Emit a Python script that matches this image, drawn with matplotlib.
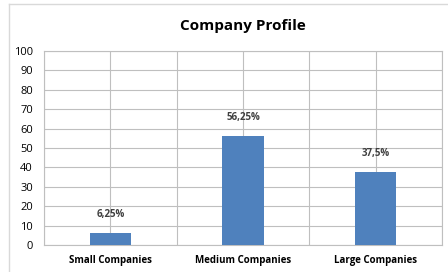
import matplotlib.pyplot as plt
from matplotlib.lines import Line2D

categories = ['Small Companies', 'Medium Companies', 'Large Companies']
values     = [6.25, 56.25, 37.5]
labels     = ['6,25%', '56,25%', '37,5%']
y_ticks    = [0, 10, 20, 30, 40, 50, 60, 70, 80, 90, 100]

BAR   = '#4F81BD'
GRID  = '#bfbfbf'
LABEL = '#404040'

plt.rcParams['font.family'] = ['Open Sans', 'DejaVu Sans']

fig = plt.figure(figsize=(4.48, 2.72), dpi=100)
fig.patch.set_facecolor('#ffffff')

# outer chart border (only top and left visible in the crop)
fig.add_artist(Line2D([9/448, 1.0], [1 - 4/272, 1 - 4/272], transform=fig.transFigure,
                      color='#d9d9d9', linewidth=1.0))
fig.add_artist(Line2D([9/448, 9/448], [0.0, 1 - 4/272], transform=fig.transFigure,
                      color='#d9d9d9', linewidth=1.0))

ax = fig.add_axes([44/448, 1 - 245/272, (442 - 44)/448, (245 - 51)/272])

x = list(range(len(categories)))
ax.bar(x, values, width=0.31, color=BAR, zorder=3)

ax.set_xlim(-0.5, 2.5)
ax.set_ylim(0, 100)
ax.set_yticks(y_ticks)
ax.set_xticks(x)
ax.set_xticklabels(categories, fontsize=7, fontweight='bold', color='#000000')
ax.set_xticks([-0.5, 0.5, 1.5, 2.5], minor=True)
ax.tick_params(axis='x', which='both', length=0, pad=7)
ax.tick_params(axis='y', length=0, labelsize=8, pad=8, colors='#000000')

ax.grid(True, which='both', color=GRID, linewidth=0.8, zorder=0)
ax.set_axisbelow(True)
for spine in ax.spines.values():
    spine.set_color(GRID)
    spine.set_linewidth(0.8)

for xi, v, lab in zip(x, values, labels):
    ax.annotate(lab, (xi, v), xytext=(0, 13.5), textcoords='offset points',
                ha='center', va='center', fontsize=7, fontweight='bold', color=LABEL)

fig.text(243/448, 1 - 26/272, 'Company Profile', ha='center', va='center',
         fontsize=11, fontweight='bold', color='#000000')

fig.savefig('out.png', dpi=100, facecolor=fig.get_facecolor())
